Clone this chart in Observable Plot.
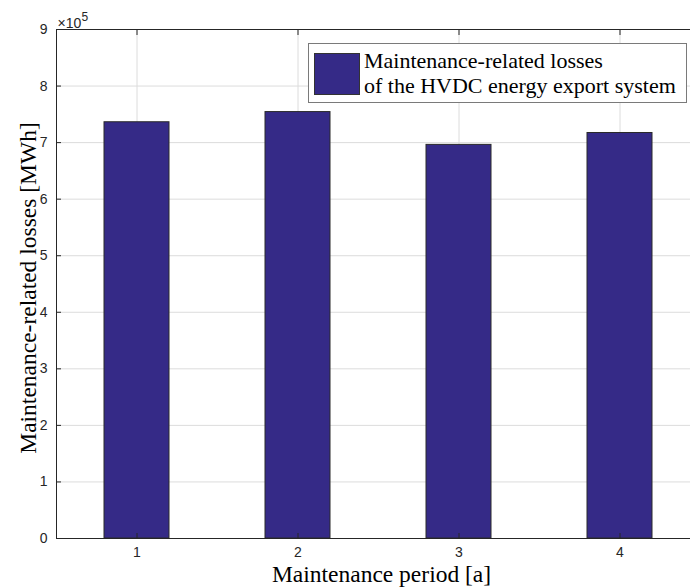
<!DOCTYPE html>
<html>
<head>
<meta charset="utf-8">
<script src="https://cdn.jsdelivr.net/npm/d3@7"></script>
<script src="https://cdn.jsdelivr.net/npm/@observablehq/plot@0.6"></script>
<style>
  html, body { margin: 0; padding: 0; background: #fff; overflow: hidden; }
  #wrap { position: relative; width: 690px; height: 588px; overflow: hidden; }
  #legend {
    position: absolute; left: 308px; top: 43px; width: 379px; height: 60px;
    border: 1px solid #7a7a7a; background: #fff; box-sizing: border-box;
    font-family: "Liberation Serif", "Times New Roman", serif; font-size: 22px; color: #000;
  }
  #legend .sw { position: absolute; left: 5px; top: 9px; width: 46px; height: 42px; background: #352a87; border: 1px solid #333; box-sizing: border-box; }
  #legend .tx { position: absolute; left: 55px; top: 4px; line-height: 25px; white-space: nowrap; }
</style>
</head>
<body>
<div id="wrap"><div id="legend"><div class="sw"></div><div class="tx"></div></div></div>
<script>
const periods = [1, 2, 3, 4];
const losses = [7.36e5, 7.54e5, 6.96e5, 7.17e5];
const yTicks = [0, 1, 2, 3, 4, 5, 6, 7, 8, 9];
const legendLines = ["Maintenance-related losses", "of the HVDC energy export system"];
const xLabel = "Maintenance period [a]";
const yLabel = "Maintenance-related losses [MWh]";
const expBase = "×10";
const expPow = "5";

const data = periods.map((p, i) => ({period: p, loss: losses[i] / 1e5}));

const sans = "'Liberation Sans', Arial, Helvetica, sans-serif";
const serif = "'Liberation Serif', 'Times New Roman', serif";
const axisCol = "#262626";

const chart = Plot.plot({
  width: 690,
  height: 588,
  marginLeft: 56,
  marginTop: 29,
  marginBottom: 50,
  marginRight: 0,
  style: {fontFamily: sans, fontSize: "14px", color: axisCol, overflow: "hidden", maxWidth: "none"},
  x: {type: "band", domain: periods, range: [56, 700], paddingInner: 0.596, paddingOuter: 0.298, label: null},
  y: {domain: [0, 9], label: null},
  marks: [
    Plot.gridX(periods, {stroke: "#dcdcdc", strokeOpacity: 1}),
    Plot.gridY(yTicks, {stroke: "#dcdcdc", strokeOpacity: 1}),
    Plot.barY(data, {x: "period", y: "loss", fill: "#352a87", stroke: "#2a2a2a", strokeWidth: 1}),
    Plot.frame({stroke: axisCol, strokeWidth: 1}),
    Plot.axisY(yTicks, {tickSize: -5, text: null, stroke: axisCol}),
    Plot.axisY(yTicks, {tickSize: 0, tickPadding: 9, fill: axisCol, fontSize: 14, tickFormat: d => String(d), label: null}),
    Plot.axisX(periods, {tickSize: -5, text: null, stroke: axisCol}),
    Plot.axisX(periods, {anchor: "top", tickSize: -5, text: null, stroke: axisCol, label: null}),
    Plot.axisX(periods, {tickSize: 0, tickPadding: 9, fill: axisCol, fontSize: 14, tickFormat: d => String(d), label: null}),
    Plot.text([expBase], {frameAnchor: "top-left", textAnchor: "start", lineAnchor: "bottom", dx: 1, dy: -2, fill: axisCol, fontSize: 14}),
    Plot.text([expPow], {frameAnchor: "top-left", textAnchor: "start", lineAnchor: "bottom", dx: 25, dy: -9, fill: axisCol, fontSize: 12}),
    Plot.text([yLabel], {frameAnchor: "left", textAnchor: "middle", lineAnchor: "bottom", rotate: -90, dx: -21, dy: 4, fontFamily: serif, fontSize: 23.5, fill: "#000"}),
    Plot.text([xLabel], {frameAnchor: "bottom", textAnchor: "middle", lineAnchor: "bottom", dx: 8, dy: 43, fontFamily: serif, fontSize: 23.5, fill: "#000"})
  ]
});
const wrap = document.getElementById("wrap");
wrap.insertBefore(chart, wrap.firstChild);
document.querySelector("#legend .tx").innerHTML = legendLines.join("<br>");
</script>
</body>
</html>
